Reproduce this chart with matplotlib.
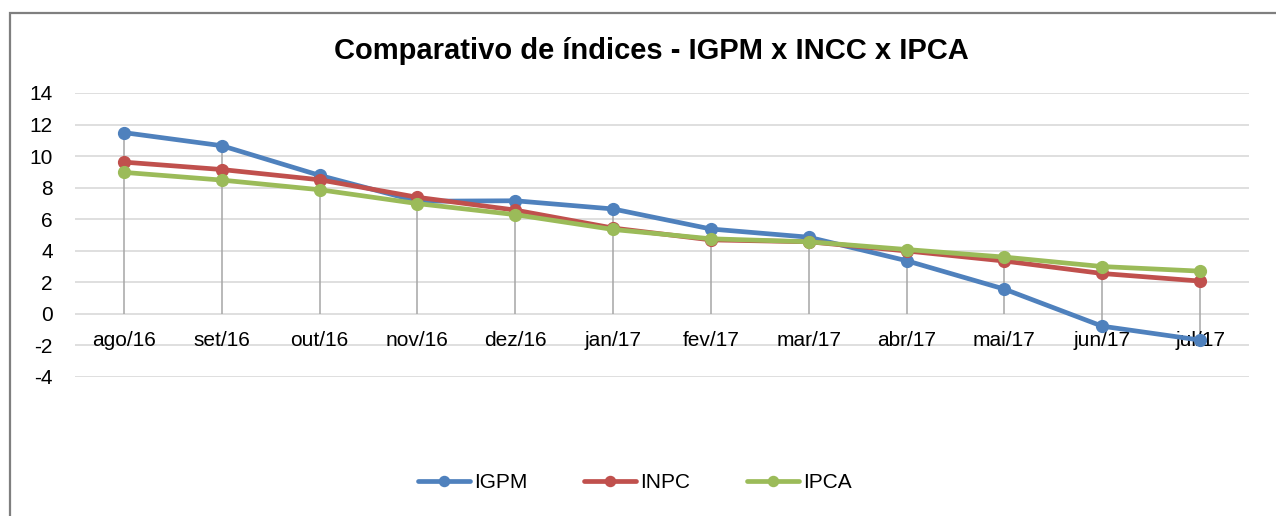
import numpy as np
import matplotlib
matplotlib.use("Agg")
import matplotlib.pyplot as plt
from matplotlib.patches import Rectangle

# data (12-month accumulated, %)
months = ["ago/16", "set/16", "out/16", "nov/16", "dez/16", "jan/17",
          "fev/17", "mar/17", "abr/17", "mai/17", "jun/17", "jul/17"]
igpm = [11.49, 10.66, 8.78, 7.14, 7.17, 6.65, 5.38, 4.86, 3.37, 1.57, -0.78, -1.66]
inpc = [9.62, 9.15, 8.50, 7.39, 6.58, 5.44, 4.69, 4.57, 3.99, 3.35, 2.56, 2.08]
ipca = [8.97, 8.48, 7.87, 6.99, 6.29, 5.35, 4.76, 4.57, 4.08, 3.60, 3.00, 2.71]
y_ticks = [-4, -2, 0, 2, 4, 6, 8, 10, 12, 14]

series = [("IGPM", igpm, "#4f81bd"),
          ("INPC", inpc, "#c0504d"),
          ("IPCA", ipca, "#9bbb59")]

plt.rcParams['font.family'] = ['Liberation Sans', 'DejaVu Sans']

W, H = 1276, 516
fig = plt.figure(figsize=(W / 100, H / 100), dpi=100)

# chart border (left and top edges visible)
fig.patches.append(Rectangle((9.5 / W, -0.05), 1.1, 1 - 13 / H + 0.05,
                             transform=fig.transFigure, fill=False,
                             edgecolor="#7f7f7f", linewidth=1.6, zorder=0))

ax = fig.add_axes([75 / W, 1 - 377 / H, (1249 - 75) / W, (377 - 93) / H])
x = np.arange(len(months))

# gridlines
for yt in y_ticks:
    ax.axhline(yt, color="#d9d9d9", linewidth=1.2, zorder=0)

# drop lines
all_vals = np.array([igpm, inpc, ipca])
ax.vlines(x, np.minimum(all_vals.min(axis=0), 0), all_vals.max(axis=0),
          color="#a6a6a6", linewidth=1.1, zorder=1)

for name, vals, col in series:
    ax.plot(x, vals, color=col, linewidth=3.4, marker="o", markersize=8.5,
            label=name, zorder=3, solid_capstyle="round")

ax.set_xlim(-0.5, len(months) - 0.5)
ax.set_ylim(-4, 14)
ax.set_yticks(y_ticks)
ax.set_yticklabels([str(v) for v in y_ticks], fontsize=15)
ax.tick_params(axis="y", length=0, pad=16)

ax.spines["bottom"].set_position(("data", 0))
ax.spines["bottom"].set_visible(False)
for s in ["top", "right", "left"]:
    ax.spines[s].set_visible(False)
ax.set_xticks(x)
ax.set_xticklabels(months, fontsize=15)
ax.tick_params(axis="x", length=0, pad=12)
ax.set_facecolor("none")

fig.text(651 / W, 1 - 51 / H, "Comparativo de índices - IGPM x INCC x IPCA",
         ha="center", va="center", fontsize=21, fontweight="bold")

leg = fig.legend(loc="center", bbox_to_anchor=(635 / W, 1 - 483 / H), ncol=3,
                 frameon=False, fontsize=15, handlelength=2.5,
                 handletextpad=0.2, columnspacing=2.7, markerscale=0.85)

fig.savefig("out.png", dpi=100)
